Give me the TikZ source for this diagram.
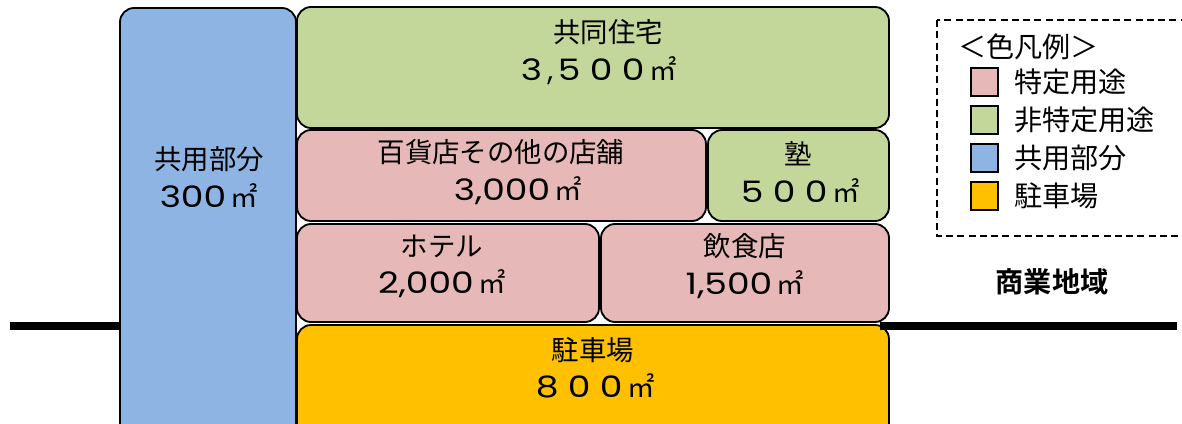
\documentclass[tikz,border=0pt]{standalone}
\usepackage{fontspec}
\setmainfont{Noto Sans CJK JP}
\newfontfamily\jpb{Noto Sans CJK JP Bold}
\newfontfamily\numf{Poppins}
\definecolor{cgreen}{RGB}{196,215,155}
\definecolor{cpink}{RGB}{230,184,183}
\definecolor{cblue}{RGB}{141,180,226}
\definecolor{corange}{RGB}{255,192,0}
\newcommand{\areanum}[1]{{\numf\fontsize{21}{26}\selectfont\scalebox{1.22}[1]{#1}}\,㎡}
\newcommand{\wdig}[1]{\makebox[0.8cm]{\numf\fontsize{21}{26}\selectfont\scalebox{1.22}[1]{#1}}}
\newcommand{\wcom}{{\numf\fontsize{21}{26}\selectfont ,}}
\tikzset{
  area/.style={draw=black, line width=1.3pt, rounded corners=10pt},
  lbl/.style={align=center, font=\fontsize{19.5}{26.5}\selectfont, inner sep=0pt},
  leg/.style={anchor=west, font=\fontsize{20}{24}\selectfont, inner sep=0pt},
  legsq/.style={draw=black, line width=1.2pt},
  ground/.style={line width=5pt}
}
\begin{document}
\begin{tikzpicture}[x=0.025cm,y=-0.025cm]
\useasboundingbox (0,0) rectangle (1182,423);
\begin{scope}
\clip (0,0) rectangle (1182,423);
\draw[ground] (10,326) coordinate (gl0) -- (130,326) coordinate (gl1);
\draw[area, fill=cblue] (120,8) rectangle (296,440);
\draw[area, fill=cgreen] (297,7) rectangle (889,128);
\draw[area, fill=cpink] (297,130) rectangle (706,221);
\draw[area, fill=cgreen] (708,130) rectangle (889,221);
\draw[area, fill=cpink] (297,224) rectangle (599,322);
\draw[area, fill=cpink] (601,224) rectangle (889,322);
\draw[area, fill=corange] (297,325) rectangle (889,440);
\draw[ground] (880,326) coordinate (gr0) -- (1177,326) coordinate (gr1);
\draw[dashed, line width=1.1pt, dash pattern=on 5pt off 3pt] (937,20) rectangle (1195,236);
\end{scope}
\node[lbl] (kyoyo) at (209,177) {共用部分\\\areanum{300}};
\node[lbl] (jutaku) at (596,52) {\hspace*{0.6cm}共同住宅\\\wdig{3}\wcom\wdig{5}\wdig{0}\wdig{0}㎡};
\node[lbl] (hyakka) at (501,172) {百貨店その他の店舗\\\hspace*{0.85cm}\areanum{3,000}};
\node[lbl] (juku) at (798,172) {塾\\\wdig{5}\wdig{0}\wdig{0}㎡};
\node[lbl] (hotel) at (442,266) {ホテル\\\areanum{2,000}};
\node[lbl] (inshoku) at (745,266) {飲食店\\\areanum{1,500}};
\node[lbl] (chusha) at (593,368) {駐車場\\\wdig{8}\wdig{0}\wdig{0}㎡};
\node[leg] (legh) at (958,47) {＜色凡例＞};
\draw[legsq, fill=cpink] (971,68) rectangle (998,96);
\node[leg] (leg1) at (1014,82) {特定用途};
\draw[legsq, fill=cgreen] (971,106) rectangle (998,134);
\node[leg] (leg2) at (1014,120) {非特定用途};
\draw[legsq, fill=cblue] (971,144) rectangle (998,172);
\node[leg] (leg3) at (1014,158) {共用部分};
\draw[legsq, fill=corange] (971,182) rectangle (998,210);
\node[leg] (leg4) at (1014,196) {駐車場};
\node[font=\jpb\fontsize{20}{24}\selectfont, inner sep=0pt] (zone) at (1052,282) {商業地域};
\end{tikzpicture}
\end{document}
